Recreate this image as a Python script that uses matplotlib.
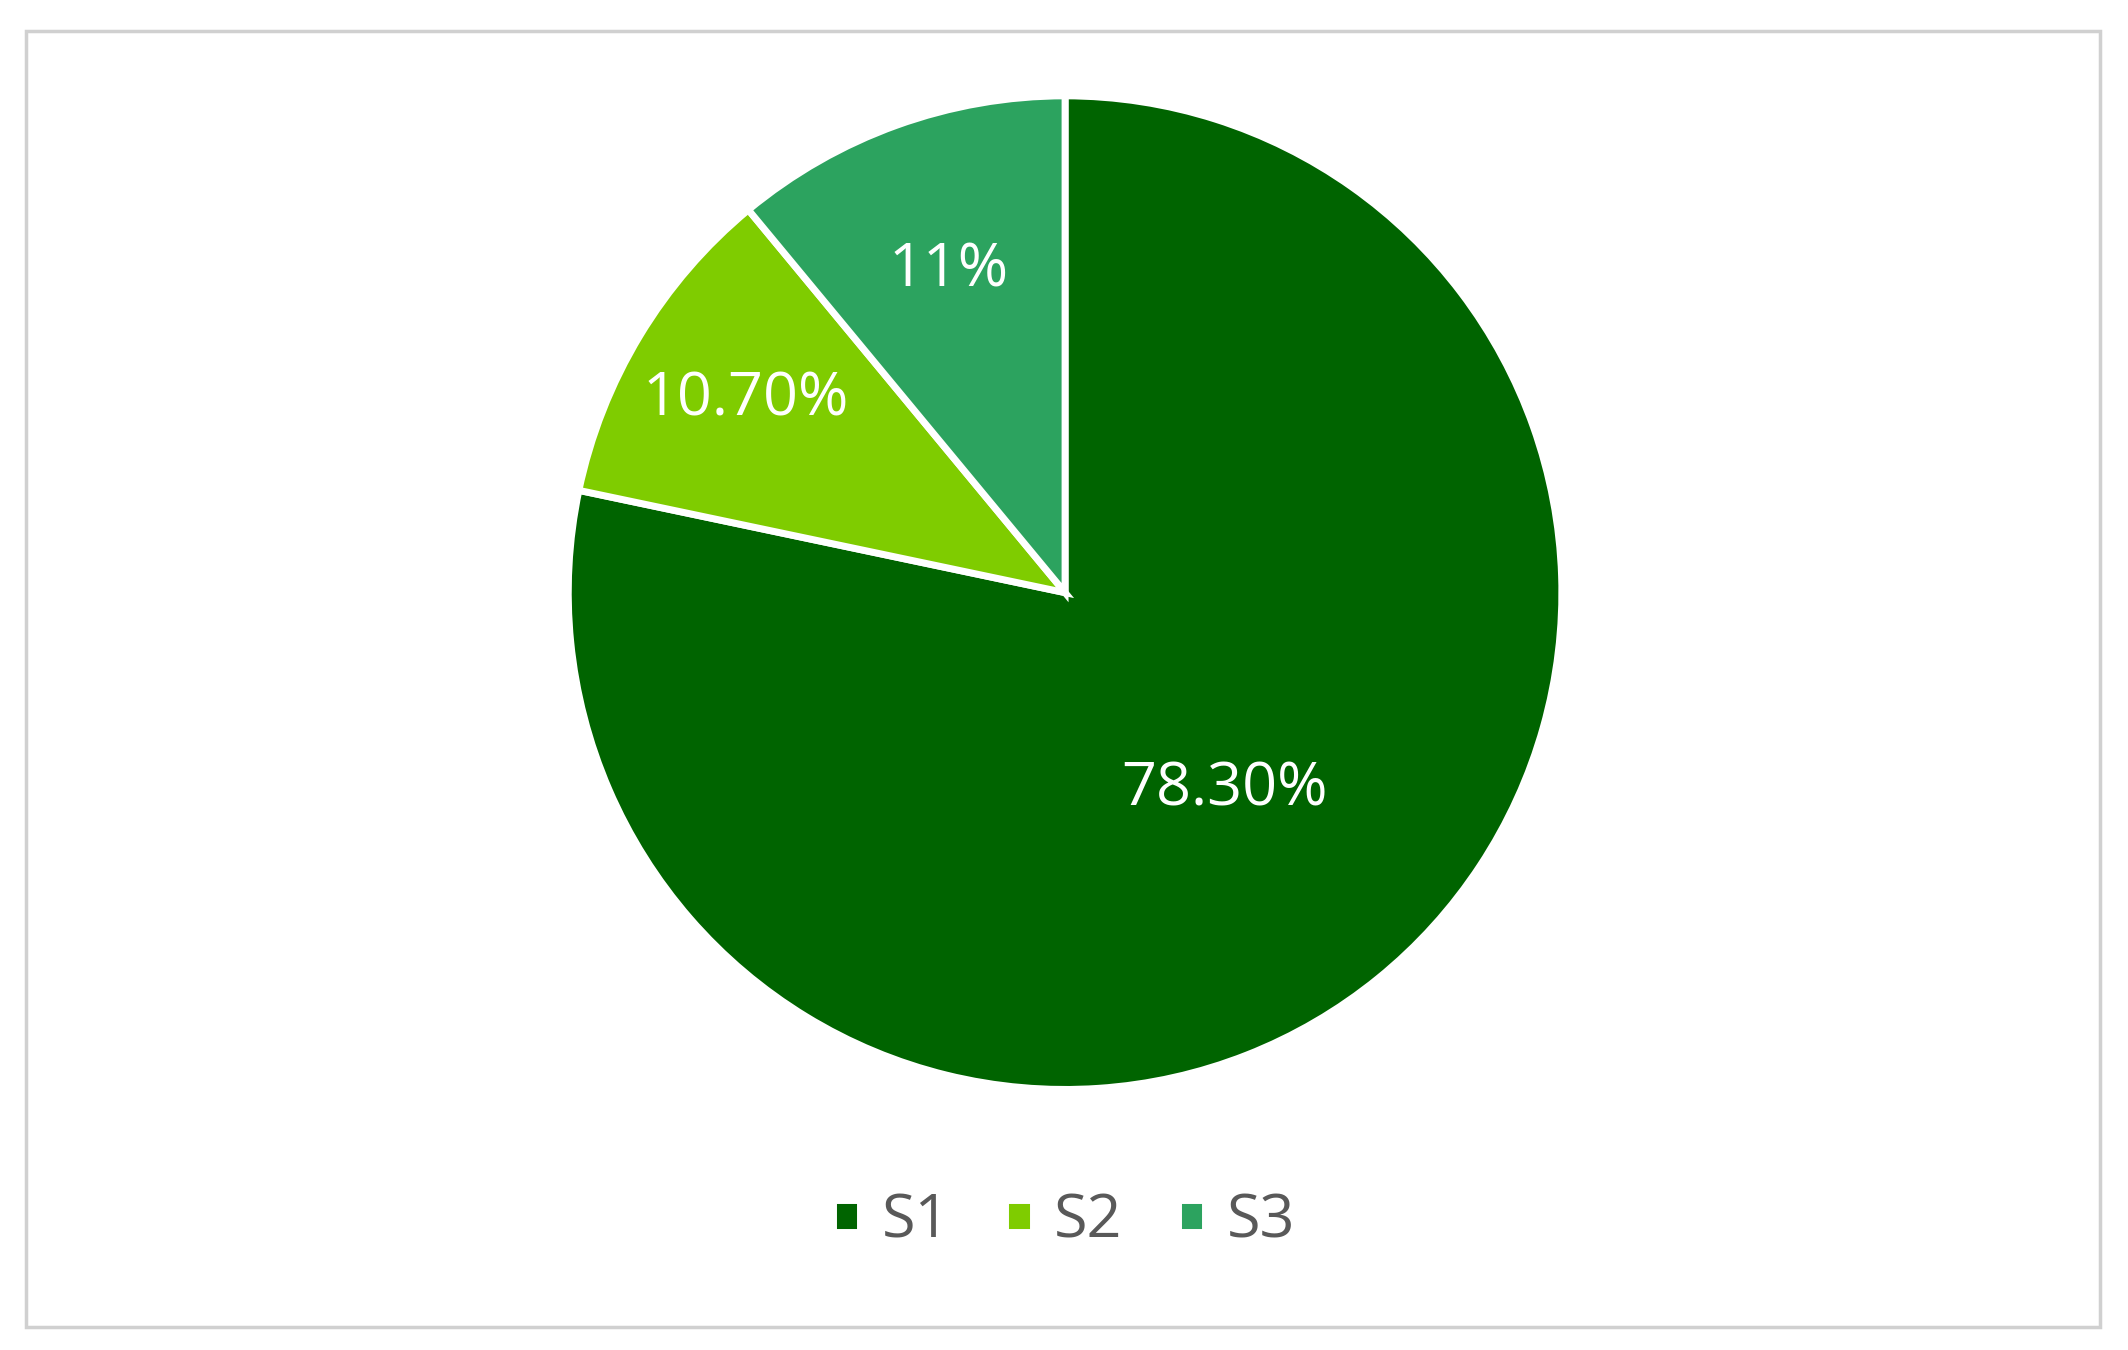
import matplotlib
matplotlib.use("Agg")
import matplotlib.pyplot as plt
from matplotlib.patches import Rectangle
import numpy as np

labels = ["S1", "S2", "S3"]
values = [78.3, 10.7, 11.0]
texts = ["78.30%", "10.70%", "11%"]
colors = ["#006400", "#7FCC00", "#2CA35F"]

plt.rcParams['font.family'] = ['Open Sans', 'DejaVu Sans']
fig = plt.figure(figsize=(21.28, 13.5), dpi=100)
fig.patches.append(Rectangle((0.012, 0.017), 0.975, 0.96, transform=fig.transFigure,
                             fill=False, edgecolor="#d0d0d0", linewidth=2.5))
ax = fig.add_axes([0.267, 0.193, 0.467, 0.736])
wedges, _ = ax.pie(values, colors=colors, startangle=90, counterclock=False,
                   wedgeprops=dict(edgecolor="white", linewidth=5))
ax.set_xlim(-1, 1)
ax.set_ylim(-1, 1)
dists = [0.51, 0.75, 0.69]
for w, t, d in zip(wedges, texts, dists):
    ang = np.deg2rad((w.theta1 + w.theta2) / 2)
    ax.text(d*np.cos(ang), d*np.sin(ang), t, ha="center", va="center",
            color="white", fontsize=44)
ax.set_aspect("equal")
leg = fig.legend(wedges, labels, loc="center", bbox_to_anchor=(0.5, 0.095), ncol=3,
                 frameon=False, fontsize=44, handlelength=0.45, handleheight=0.45,
                 handletextpad=0.35, columnspacing=0.9)
for t in leg.get_texts():
    t.set_color("#595959")
fig.savefig("out.png", dpi=100)
